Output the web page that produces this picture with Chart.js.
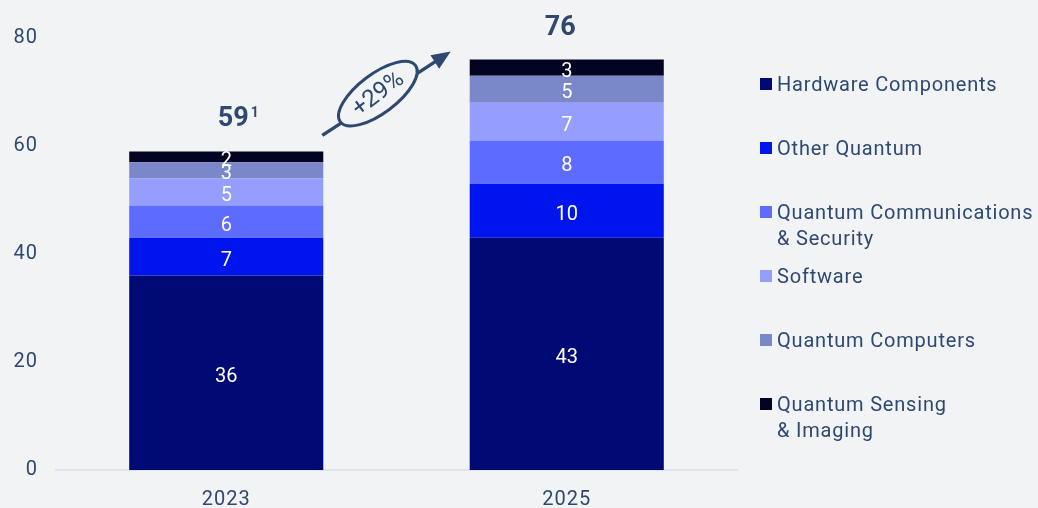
<!DOCTYPE html>
<html>
<head>
<meta charset="utf-8">
<script src="https://cdn.jsdelivr.net/npm/chart.js@4.4.1/dist/chart.umd.min.js"></script>
<style>
  html, body { margin: 0; padding: 0; background: #f2f3f5; }
  #wrap { position: relative; width: 1038px; height: 508px; }
</style>
</head>
<body>
<div id="wrap"><canvas id="chart"></canvas></div>
<script>
// Data
const years = ['2023', '2025'];
const seriesNames = [
    'Hardware Components',
    'Other Quantum',
    'Quantum Communications\n& Security',
    'Software',
    'Quantum Computers',
    'Quantum Sensing\n& Imaging'
];
const hardware = [36, 43];
const otherQuantum = [7, 10];
const communications = [6, 8];
const software = [5, 7];
const computers = [3, 5];
const sensing = [2, 3];
const totals = ['59', '76'];
const totalNotes = ['1', ''];
const growthLabel = '+29%';
const yTicks = [0, 20, 40, 60, 80];

const colors = ['#000a74', '#0014ee', '#5e6bff', '#959dfd', '#7a87c8', '#020421'];
const textColor = '#2e4870';
const bg = '#f2f3f5';
const font = 'Roboto';

const seriesValues = [hardware, otherQuantum, communications, software, computers, sensing];

// a bit of tracking for the axis text
const spacing = {
    id: 'spacing',
    beforeDraw(chart) { chart.ctx.letterSpacing = '1px'; }
};

// Value labels inside the segments
const segmentLabels = {
    id: 'segmentLabels',
    afterDatasetsDraw(chart) {
        const ctx = chart.ctx;
        ctx.save();
        ctx.letterSpacing = '0px';
        ctx.fillStyle = '#ffffff';
        ctx.font = `20px ${font}`;
        ctx.textAlign = 'center';
        ctx.textBaseline = 'middle';
        chart.data.datasets.forEach((ds, di) => {
            chart.getDatasetMeta(di).data.forEach((bar, i) => {
                const y = (bar.y + bar.base) / 2;
                ctx.fillText(String(ds.data[i]), bar.x, y + 4);
            });
        });
        ctx.restore();
    }
};

// Totals above the bars and the growth arrow
const totalsAndArrow = {
    id: 'totalsAndArrow',
    afterDraw(chart) {
        const ctx = chart.ctx;
        const y = chart.scales.y;
        const topMeta = chart.getDatasetMeta(chart.data.datasets.length - 1);
        ctx.save();
        ctx.letterSpacing = '0px';
        ctx.fillStyle = textColor;
        ctx.textBaseline = 'alphabetic';
        years.forEach((yr, i) => {
            const bar = topMeta.data[i];
            const base = bar.y - 25;
            const cx = bar.x + (totalNotes[i] ? 7 : -6.5);
            ctx.font = `bold 27px ${font}`;
            ctx.textAlign = 'center';
            ctx.fillText(totals[i], cx, base);
            if (totalNotes[i]) {
                const w = ctx.measureText(totals[i]).width;
                ctx.font = `bold 14px ${font}`;
                ctx.textAlign = 'left';
                ctx.fillText(totalNotes[i], cx + w / 2 + 2, base - 9.5);
            }
        });

        // arrow
        const b0 = topMeta.data[0];
        const b1 = topMeta.data[1];
        const x0 = b0.x + b0.width / 2 - 1;
        const y0 = y.getPixelForValue(59) - 16;
        const x1 = b1.x - b1.width / 2 - 19;
        const y1 = y.getPixelForValue(76) - 8;
        const ang = Math.atan2(y1 - y0, x1 - x0);
        ctx.strokeStyle = textColor;
        ctx.lineWidth = 3.5;
        ctx.beginPath();
        ctx.moveTo(x0, y0);
        ctx.lineTo(x1 - 12 * Math.cos(ang), y1 - 12 * Math.sin(ang));
        ctx.stroke();
        ctx.beginPath();
        ctx.moveTo(x1, y1);
        ctx.lineTo(x1 - 19 * Math.cos(ang) + 8 * Math.sin(ang), y1 - 19 * Math.sin(ang) - 8 * Math.cos(ang));
        ctx.lineTo(x1 - 19 * Math.cos(ang) - 8 * Math.sin(ang), y1 - 19 * Math.sin(ang) + 8 * Math.cos(ang));
        ctx.closePath();
        ctx.fill();

        const ex = x0 + (x1 - x0) * 0.433;
        const ey = y0 + (y1 - y0) * 0.433 - 5.5;
        const tilt = -37 * Math.PI / 180;
        ctx.beginPath();
        ctx.ellipse(ex, ey, 47, 19.5, tilt, 0, Math.PI * 2);
        ctx.fillStyle = bg;
        ctx.fill();
        ctx.lineWidth = 3;
        ctx.stroke();

        ctx.translate(ex, ey);
        ctx.rotate(tilt);
        ctx.fillStyle = textColor;
        ctx.font = `24px ${font}`;
        ctx.textAlign = 'center';
        ctx.textBaseline = 'middle';
        ctx.fillText(growthLabel, 0, 1);
        ctx.restore();
    }
};

// Legend on the right
const sideLegend = {
    id: 'sideLegend',
    afterDraw(chart) {
        const ctx = chart.ctx;
        const left = chart.chartArea.right + 23;
        ctx.save();
        ctx.letterSpacing = '0.8px';
        ctx.font = `20px ${font}`;
        ctx.textBaseline = 'middle';
        ctx.textAlign = 'left';
        seriesNames.forEach((name, i) => {
            const rowY = 84 + i * 64;
            ctx.fillStyle = colors[i];
            ctx.fillRect(left, rowY - 6, 12, 12);
            ctx.fillStyle = textColor;
            name.split('\n').forEach((line, li) => {
                ctx.fillText(line, left + 17, rowY + 2 + li * 26);
            });
        });
        ctx.restore();
    }
};

new Chart(document.getElementById('chart'), {
    type: 'bar',
    data: {
        labels: years,
        datasets: seriesValues.map((vals, i) => ({
            label: seriesNames[i],
            data: vals,
            backgroundColor: colors[i],
            borderWidth: 0,
            barPercentage: 0.57,
            categoryPercentage: 1
        }))
    },
    options: {
        responsive: true,
        maintainAspectRatio: false,
        animation: false,
        layout: { padding: { left: 0, right: 301, top: 38, bottom: 0 } },
        plugins: {
            legend: { display: false },
            tooltip: { enabled: false }
        },
        scales: {
            x: {
                stacked: true,
                grid: { display: false, drawTicks: false },
                border: { display: true, color: '#dde4ef', width: 2 },
                ticks: { color: textColor, font: { family: font, size: 20 }, padding: 18 },
                afterFit: (s) => { s.height = 38; }
            },
            y: {
                stacked: true,
                min: 0,
                max: 80,
                afterBuildTicks: (s) => { s.ticks = yTicks.map(v => ({ value: v })); },
                grid: { display: false, drawTicks: false },
                border: { display: false },
                ticks: { color: textColor, font: { family: font, size: 20 }, padding: 18 },
                afterFit: (s) => { s.width = 56; }
            }
        }
    },
    plugins: [spacing, segmentLabels, totalsAndArrow, sideLegend]
});
</script>
</body>
</html>
